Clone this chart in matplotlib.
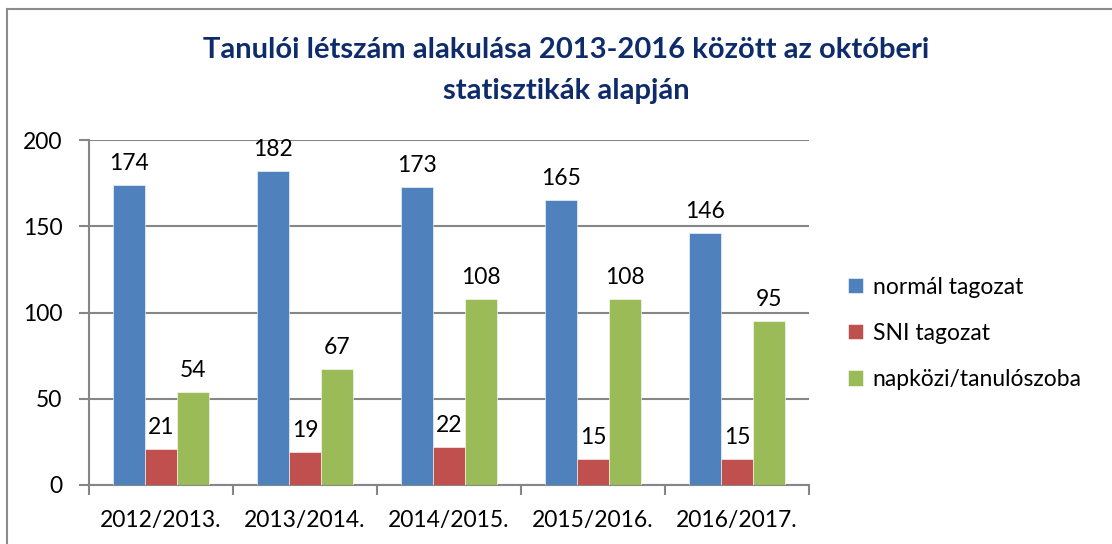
import numpy as np
import matplotlib
matplotlib.use("Agg")
import matplotlib.pyplot as plt
from matplotlib.lines import Line2D

plt.rcParams['font.family'] = ['Lato', 'DejaVu Sans']

evek = ['2012/2013.', '2013/2014.', '2014/2015.', '2015/2016.', '2016/2017.']
normal = [174, 182, 173, 165, 146]
sni = [21, 19, 22, 15, 15]
napkozi = [54, 67, 108, 108, 95]

sorozatok = ['normál tagozat', 'SNI tagozat', 'napközi/tanulószoba']
szinek = ['#4F81BD', '#C0504D', '#9BBB59']

fig = plt.figure(figsize=(11.12, 5.44), dpi=100)
ax = fig.add_axes([0.080, 0.1085, 0.6475, 0.634])

x = np.arange(len(evek))
w = 0.222
for i, (adat, nev, szin) in enumerate(zip([normal, sni, napkozi], sorozatok, szinek)):
    bars = ax.bar(x + (i - 1) * w, adat, w, color=szin, label=nev,
                  edgecolor='white', linewidth=0.4, zorder=3)
    for b, v in zip(bars, adat):
        ax.annotate(str(v), (b.get_x() + b.get_width() / 2, v),
                    xytext=(0, 8), textcoords='offset points',
                    ha='center', va='bottom', fontsize=16.5, color='black')

ax.set_xlim(-0.5, len(evek) - 0.5)
ax.set_ylim(0, 200)
ax.set_yticks([0, 50, 100, 150, 200])
ax.set_xticks(x)
ax.set_xticklabels(evek)
ax.set_xticks(np.arange(len(evek) + 1) - 0.5, minor=True)
ax.tick_params(axis='x', which='major', length=0, pad=18, labelsize=16.5)
ax.tick_params(axis='x', which='minor', length=7, width=1.5, color='#868686')
ax.tick_params(axis='y', length=7, width=1.5, color='#868686', pad=12, labelsize=16.5)

ax.grid(axis='y', color='#868686', linewidth=1.5, zorder=0)
for s in ['top', 'right']:
    ax.spines[s].set_visible(False)
for s in ['left', 'bottom']:
    ax.spines[s].set_color('#868686')
    ax.spines[s].set_linewidth(1.5)

fig.text(0.509, 0.908, 'Tanulói létszám alakulása 2013-2016 között az októberi',
         ha='center', va='center', fontsize=21, fontweight='bold', color='#0E2B6B')
fig.text(0.509, 0.832, 'statisztikák alapján',
         ha='center', va='center', fontsize=21, fontweight='bold', color='#0E2B6B')

ax.legend(loc='center left', bbox_to_anchor=(1.025, 0.44), frameon=False,
          fontsize=16.5, handlelength=0.65, handleheight=0.65, handletextpad=0.45,
          labelspacing=1.1)

# keret
fig.add_artist(Line2D([7 / 1112, 7 / 1112], [0, 1 - 9 / 544], color='#8C8C8C', lw=1.5))
fig.add_artist(Line2D([7 / 1112, 1], [1 - 9 / 544, 1 - 9 / 544], color='#8C8C8C', lw=1.5))

fig.savefig('out.png', dpi=100)
